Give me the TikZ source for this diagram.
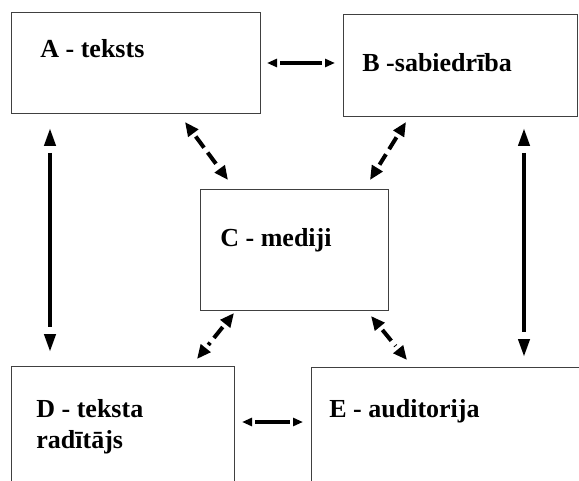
\documentclass[tikz,border=0pt]{standalone}
\usepackage{fontspec}
\setmainfont{Liberation Serif}
\usetikzlibrary{arrows.meta,decorations.markings}
\tikzset{
  blok/.style={draw=black!75,line width=.6pt,anchor=north west,inner sep=0pt},
  vards/.style={anchor=base west,inner sep=0pt,align=left,
    font=\bfseries\fontsize{13}{15.5}\selectfont},
  % double headed arrow: head length, head width, gap before the line
  abgalvas/.style n args={3}{line width=2pt,
    shorten <=#1+#3,shorten >=#1+#3,
    postaction={decorate},
    decoration={markings,
      mark=at position 0 with {\arrowreversed{Triangle[length=#1,width=#2]}},
      mark=at position 1 with {\arrow{Triangle[length=#1,width=#2]}}}},
  bulta/.style={abgalvas={9pt}{5.5pt}{3.5pt}},
  isbulta/.style={abgalvas={5pt}{4pt}{1.5pt}},
  svitrbulta/.style={abgalvas={7pt}{6pt}{2pt},dash pattern=on 7pt off 3pt}
}
\begin{document}
\begin{tikzpicture}[x=.5pt,y=-.5pt]
\useasboundingbox (0,0) rectangle (579,481);
\clip (0,0) rectangle (579,481);
%%%% boxes
\node[blok,minimum width=124.5pt,minimum height=50.5pt] (A) at (11,12) {};
\node[blok,minimum width=117pt,minimum height=51pt] (B) at (343,14) {};
\node[blok,minimum width=94pt,minimum height=60.5pt] (C) at (200,189) {};
\node[blok,minimum width=111.5pt,minimum height=70pt] (D) at (11,366) {};
\node[blok,minimum width=144.5pt,minimum height=70pt] (E) at (311,367) {};
\node[vards] (Av) at (40,58) {A - teksts};
\node[vards] (Bv) at (362,72) {B -sabiedr\={\i}ba};
\node[vards] (Cv) at (220,247) {C - mediji};
\node[vards] (Dv) at (36,448) {D - teksta\\rad\={\i}t\={a}js};
\node[vards] (Ev) at (329,417) {E - auditorija};
%%%% arrow ends
\coordinate (ab1) at (267,63);  \coordinate (ab2) at (335,63);
\coordinate (de1) at (242,422); \coordinate (de2) at (303,422);
\coordinate (ad1) at (50,128);  \coordinate (ad2) at (50,352);
\coordinate (be1) at (524,128); \coordinate (be2) at (524,357);
\coordinate (ac1) at (185,122); \coordinate (ac2) at (228,180);
\coordinate (bc1) at (406,122); \coordinate (bc2) at (370,180);
\coordinate (cd1) at (234,313); \coordinate (cd2) at (197,359);
\coordinate (ce1) at (371,316); \coordinate (ce2) at (407,360);
%%%%
\draw[isbulta] (ab1) -- (ab2);
\draw[isbulta] (de1) -- (de2);
\draw[bulta] (ad1) -- (ad2);
\draw[bulta] (be1) -- (be2);
\foreach \p/\q in {ac1/ac2,bc1/bc2,cd1/cd2,ce1/ce2}
\draw[svitrbulta] (\p) -- (\q);
\end{tikzpicture}
\end{document}
